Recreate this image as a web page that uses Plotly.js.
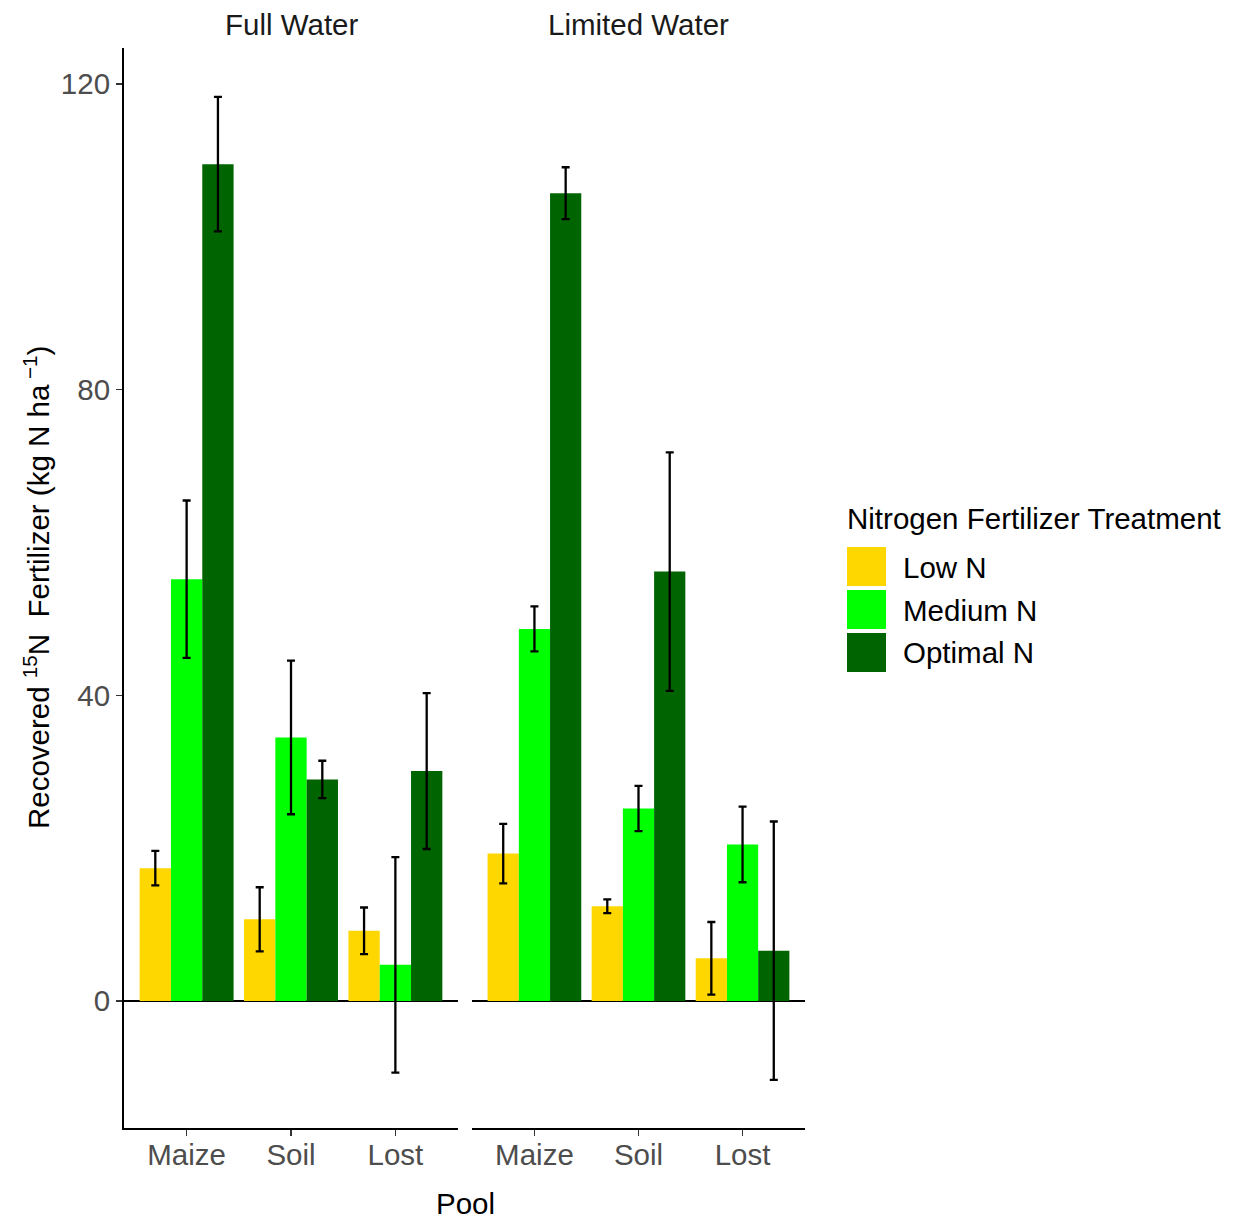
<!DOCTYPE html>
<html>
<head>
<meta charset="utf-8">
<script src="https://cdn.plot.ly/plotly-3.0.1.min.js"></script>
<style>
  html, body { margin: 0; padding: 0; background: #fff; }
  #chart { width: 1238px; height: 1220px; }
</style>
</head>
<body>
<div id="chart"></div>
<script>
// Recovered 15N fertilizer by pool, water regime and N treatment (mean ± error)
const pools = ['Maize', 'Soil', 'Lost'];
const treatments = ['Low N', 'Medium N', 'Optimal N'];
const treatmentColors = ['#FFD700', '#00FF00', '#006400'];
const waterLevels = ['Full Water', 'Limited Water'];

const fullLow = [17.4, 10.7, 9.2];
const fullLowErr = [2.25, 4.2, 3.05];
const fullMedium = [55.2, 34.5, 4.75];
const fullMediumErr = [10.3, 10.05, 14.1];
const fullOptimal = [109.5, 29.0, 30.1];
const fullOptimalErr = [8.8, 2.45, 10.2];

const limitedLow = [19.3, 12.4, 5.6];
const limitedLowErr = [3.9, 0.9, 4.75];
const limitedMedium = [48.7, 25.2, 20.5];
const limitedMediumErr = [2.95, 2.95, 4.95];
const limitedOptimal = [105.7, 56.2, 6.6];
const limitedOptimalErr = [3.4, 15.6, 16.9];

const yTicks = [0, 40, 80, 120];

const seriesByWater = [
  [[fullLow, fullLowErr], [fullMedium, fullMediumErr], [fullOptimal, fullOptimalErr]],
  [[limitedLow, limitedLowErr], [limitedMedium, limitedMediumErr], [limitedOptimal, limitedOptimalErr]]
];

const FONT = 'Liberation Sans, Arial, Helvetica, sans-serif';
const FS = 29.5;
const W = 1238, H = 1220;
const M = { l: 124, r: 433, t: 48, b: 92 };
const plotW = W - M.l - M.r;
const plotH = H - M.t - M.b;
// pixel helpers for paper-referenced decorations
const px = x => (x - M.l) / plotW;
const py = y => (H - M.b - y) / plotH;

const traces = [];
seriesByWater.forEach((series, w) => {
  series.forEach(([vals, errs], t) => {
    traces.push({
      type: 'bar',
      x: pools,
      y: vals,
      name: treatments[t],
      legendgroup: treatments[t],
      showlegend: false,
      xaxis: w === 0 ? 'x' : 'x2',
      yaxis: w === 0 ? 'y' : 'y2',
      marker: { color: treatmentColors[t], line: { width: 0 } },
      error_y: { type: 'data', array: errs, visible: true, color: '#000', thickness: 2.3, width: 4 },
      hovertemplate: waterLevels[w] + '<br>%{x}: %{y}<extra>' + treatments[t] + '</extra>'
    });
  });
});

const xCommon = {
  type: 'category',
  range: [-0.6, 2.6],
  showline: true, linecolor: '#000', linewidth: 2,
  ticks: 'outside', ticklen: 6, tickwidth: 1.5, tickcolor: '#333',
  ticklabelstandoff: -6,
  tickfont: { family: FONT, size: FS, color: '#4D4D4D' },
  showgrid: false, zeroline: false, fixedrange: true
};
const yCommon = {
  range: [-16.6, 124.7],
  tickvals: yTicks,
  showgrid: false,
  zeroline: true, zerolinecolor: '#000', zerolinewidth: 2,
  fixedrange: true
};

const annotations = [
  { text: waterLevels[0], xref: 'paper', yref: 'paper', x: px(291), y: py(25), showarrow: false,
    font: { family: FONT, size: FS, color: '#1A1A1A' }, xanchor: 'center', yanchor: 'middle' },
  { text: waterLevels[1], xref: 'paper', yref: 'paper', x: px(638), y: py(25), showarrow: false,
    font: { family: FONT, size: FS, color: '#1A1A1A' }, xanchor: 'center', yanchor: 'middle' },
  { text: 'Pool', xref: 'paper', yref: 'paper', x: px(465), y: py(1203), showarrow: false,
    font: { family: FONT, size: FS, color: '#000' }, xanchor: 'center', yanchor: 'middle' },
  { text: 'Recovered <sup>15</sup>N\u00a0 Fertilizer (kg N ha<sup> \u22121</sup>)',
    xref: 'paper', yref: 'paper', x: px(36), y: py(588), showarrow: false, textangle: -90,
    font: { family: FONT, size: FS, color: '#000' }, xanchor: 'center', yanchor: 'middle' },
  { text: 'Nitrogen Fertilizer Treatment', xref: 'paper', yref: 'paper', x: px(845), y: py(518),
    showarrow: false, font: { family: FONT, size: FS, color: '#000' }, xanchor: 'left', yanchor: 'middle' }
];

const shapes = [];
const rowTop = [547, 590, 633];
treatments.forEach((name, i) => {
  shapes.push({
    type: 'rect', xref: 'paper', yref: 'paper',
    x0: px(847), x1: px(886), y0: py(rowTop[i]), y1: py(rowTop[i] + 39),
    fillcolor: treatmentColors[i], line: { width: 0 }
  });
  annotations.push({
    text: name, xref: 'paper', yref: 'paper', x: px(901), y: py(rowTop[i] + 20),
    showarrow: false, font: { family: FONT, size: FS, color: '#000' }, xanchor: 'left', yanchor: 'middle'
  });
});

const layout = {
  width: W, height: H,
  margin: M,
  paper_bgcolor: '#fff', plot_bgcolor: 'rgba(0,0,0,0)',
  barmode: 'group', bargap: 0.1, bargroupgap: 0,
  showlegend: false,
  font: { family: FONT },
  xaxis: Object.assign({}, xCommon, { domain: [0, px(458)], anchor: 'y' }),
  xaxis2: Object.assign({}, xCommon, { domain: [px(472), 1], anchor: 'y2' }),
  yaxis: Object.assign({}, yCommon, {
    anchor: 'x',
    showline: true, linecolor: '#000', linewidth: 2,
    ticks: 'outside', ticklen: 6, tickwidth: 1.5, tickcolor: '#333',
    tickfont: { family: FONT, size: FS, color: '#4D4D4D' }
  }),
  yaxis2: Object.assign({}, yCommon, {
    anchor: 'x2', matches: 'y',
    showline: false, ticks: '', showticklabels: false
  }),
  annotations: annotations,
  shapes: shapes
};

Plotly.newPlot('chart', traces, layout, { displayModeBar: false, staticPlot: true });
</script>
</body>
</html>
